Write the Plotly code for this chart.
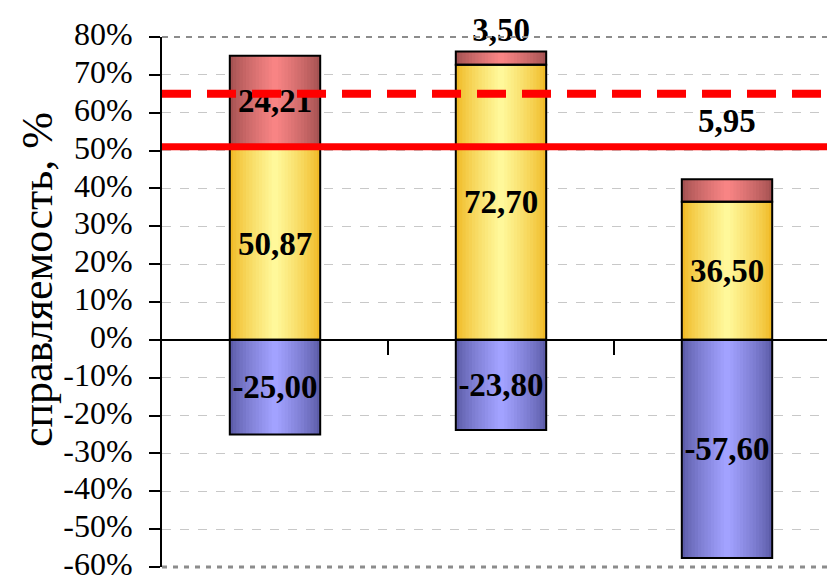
import plotly.graph_objects as go

# ---- data ----
blue_vals = [-25.00, -23.80, -57.60]
yellow_vals = [50.87, 72.70, 36.50]
red_vals = [24.21, 3.50, 5.95]
threshold_solid = 51.0
threshold_dashed = 65.0
tick_values = [-60, -50, -40, -30, -20, -10, 0, 10, 20, 30, 40, 50, 60, 70, 80]
tick_labels = ["-60%", "-50%", "-40%", "-30%", "-20%", "-10%", "0%", "10%",
               "20%", "30%", "40%", "50%", "60%", "70%", "80%"]
y_title = "справляемость, %"

x = list(range(len(blue_vals)))
fmt = lambda v: f"{v:.2f}".replace(".", ",")

FONT = "Liberation Serif, Times New Roman, serif"
BAR_W = 0.4
N = 14

W, H = 835, 582
ML, MT, MB = 154, 29, 23
PLOT_W = W - ML
CAT_PX = 226


def hex2rgb(h):
    h = h.lstrip("#")
    return tuple(int(h[i:i + 2], 16) for i in (0, 2, 4))


def mix(c1, c2, t):
    a, b = hex2rgb(c1), hex2rgb(c2)
    return "rgb(%d,%d,%d)" % tuple(round(a[i] + (b[i] - a[i]) * t) for i in range(3))


fig = go.Figure()

segments = [
    (blue_vals, [0] * len(x), "#5C5CA8", "#A2A2FF"),
    (yellow_vals, [0] * len(x), "#F0BA26", "#FFF89A"),
    (red_vals, yellow_vals, "#A45252", "#F88484"),
]

# gradient fills (nested bars)
for vals, base, edge, centre in segments:
    for k in range(N):
        t = k / (N - 1)
        w = BAR_W * (1 - k / N)
        fig.add_trace(go.Bar(
            x=x, y=vals, base=base, width=[w] * len(x),
            marker=dict(color=mix(edge, centre, t ** 0.8), line=dict(width=0)),
            hoverinfo="skip", showlegend=False,
        ))

# outlines + labels
label_font = dict(family=FONT, size=33, color="black", weight="bold")
common = dict(width=[BAR_W] * len(x),
              marker=dict(color="rgba(0,0,0,0)", line=dict(color="black", width=2)),
              insidetextanchor="middle", textfont=label_font, textangle=0,
              constraintext="none", cliponaxis=False, showlegend=False)
fig.add_trace(go.Bar(x=x, y=blue_vals, base=[0] * len(x),
                     text=[fmt(v) for v in blue_vals], textposition="inside", **common))
fig.add_trace(go.Bar(x=x, y=yellow_vals, base=[0] * len(x),
                     text=[fmt(v) for v in yellow_vals], textposition="inside", **common))
fig.add_trace(go.Bar(x=x, y=red_vals, base=yellow_vals,
                     text=[fmt(v) for v in red_vals],
                     textposition=["inside", "outside", "none"],
                     outsidetextfont=label_font, **common))

ymin, ymax = tick_values[0], tick_values[-1]
zero_pos = (0 - ymin) / (ymax - ymin)

fig.update_layout(
    width=W, height=H,
    margin=dict(l=ML, r=0, t=MT, b=MB),
    barmode="overlay",
    plot_bgcolor="white", paper_bgcolor="white",
    font=dict(family=FONT, color="black"),
    xaxis=dict(
        range=[-0.5, -0.5 + PLOT_W / CAT_PX], anchor="free", position=zero_pos,
        showline=True, linecolor="black", linewidth=2,
        tickvals=[0.5, 1.5], ticks="outside", ticklen=14, tickwidth=2,
        tickcolor="black", showticklabels=False, showgrid=False, zeroline=False,
    ),
    yaxis=dict(
        range=[ymin, ymax], tickvals=tick_values, ticktext=tick_labels,
        showline=True, linecolor="black", linewidth=2,
        ticks="outside", ticklen=11, tickwidth=2, tickcolor="black",
        tickfont=dict(family=FONT, size=32, color="black"),
        ticklabelstandoff=10, ticklabelshift=-3,
        showgrid=True, gridcolor="#C8C8C8", gridwidth=1, griddash="dash",
        zeroline=False,
    ),
    showlegend=False,
)

# plot border top/bottom (darker dashes)
fig.add_shape(type="line", xref="paper", yref="paper", x0=0, x1=1, y0=1, y1=1,
              line=dict(color="#8C8C8C", width=2, dash="6px,6px"), layer="above")
fig.add_shape(type="line", xref="paper", yref="paper", x0=0, x1=1, y0=0, y1=0,
              line=dict(color="#8C8C8C", width=3, dash="5px,6px"), layer="above")

# threshold lines
fig.add_shape(type="line", xref="paper", yref="y", x0=0, x1=1,
              y0=threshold_solid, y1=threshold_solid,
              line=dict(color="#FF0000", width=7), layer="above")
fig.add_shape(type="line", xref="paper", yref="y", x0=0, x1=1,
              y0=threshold_dashed, y1=threshold_dashed,
              line=dict(color="#FF0000", width=8, dash="29px,16px"), layer="above")

# moved data label of the third red segment
fig.add_annotation(x=x[2], y=57.7, text=fmt(red_vals[2]), showarrow=False,
                   font=label_font, xanchor="center", yanchor="middle")

# y-axis title
fig.add_annotation(xref="paper", yref="paper", x=(29 - ML) / PLOT_W, y=0.5415,
                   text=y_title, textangle=-90, showarrow=False,
                   font=dict(family=FONT, size=44, color="black"),
                   xanchor="center", yanchor="middle")

fig.write_html("out.html")
